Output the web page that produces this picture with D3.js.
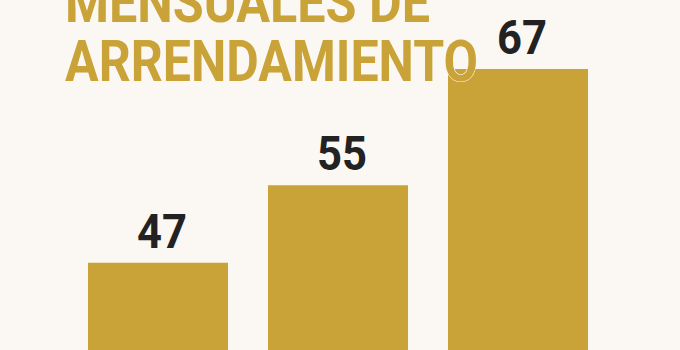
<!DOCTYPE html>
<html>
<head>
<meta charset="utf-8">
<script src="https://cdn.jsdelivr.net/npm/d3@7"></script>
<style>
  html, body { margin: 0; padding: 0; background: #fbf8f3; }
  svg { display: block; }
</style>
</head>
<body>
<div id="chart"></div>
<script>
// datos
const categories = ["a", "b", "c"];
const values = [47, 55, 67];
const titleLines = ["MENSUALES DE", "ARRENDAMIENTO"];

const width = 680, height = 350;
const gold = "#c9a238";
const bg = "#fbf8f3";

const svg = d3.select("#chart").append("svg")
    .attr("width", width)
    .attr("height", height);

svg.append("rect").attr("width", width).attr("height", height).attr("fill", bg);

const x = d3.scaleBand()
    .domain(categories)
    .range([68, 608])
    .paddingInner(0.2222)
    .paddingOuter(0.1111);

// base fuera del recorte
const y = d3.scaleLinear()
    .domain([0, d3.max(values)])
    .range([718, 69]);

svg.append("g").selectAll("rect")
    .data(values)
    .join("rect")
    .attr("x", (d, i) => x(categories[i]))
    .attr("y", d => y(d))
    .attr("width", x.bandwidth())
    .attr("height", d => y(0) - y(d))
    .attr("fill", gold);

svg.append("g").selectAll("text")
    .data(values)
    .join("text")
    .attr("x", (d, i) => x(categories[i]) + x.bandwidth() / 2 + 4)
    .attr("y", d => y(d) - 15)
    .attr("text-anchor", "middle")
    .attr("font-family", "Roboto, 'Liberation Sans', sans-serif")
    .attr("font-weight", 700)
    .attr("font-size", 49)
    .attr("textLength", 50)
    .attr("lengthAdjust", "spacingAndGlyphs")
    .attr("fill", "#222")
    .text(d => d);

// título (recortado arriba)
const titleLen = [365, 413];
svg.append("g").selectAll("text")
    .data(titleLines)
    .join("text")
    .attr("x", 65)
    .attr("y", (d, i) => 22 + i * 59)
    .attr("font-family", "Roboto, 'Liberation Sans', sans-serif")
    .attr("font-weight", 700)
    .attr("font-size", 57)
    .attr("textLength", (d, i) => titleLen[i])
    .attr("lengthAdjust", "spacingAndGlyphs")
    .attr("fill", gold)
    .attr("stroke", bg)
    .attr("stroke-width", 1.2)
    .attr("paint-order", "stroke")
    .text(d => d);
</script>
</body>
</html>
